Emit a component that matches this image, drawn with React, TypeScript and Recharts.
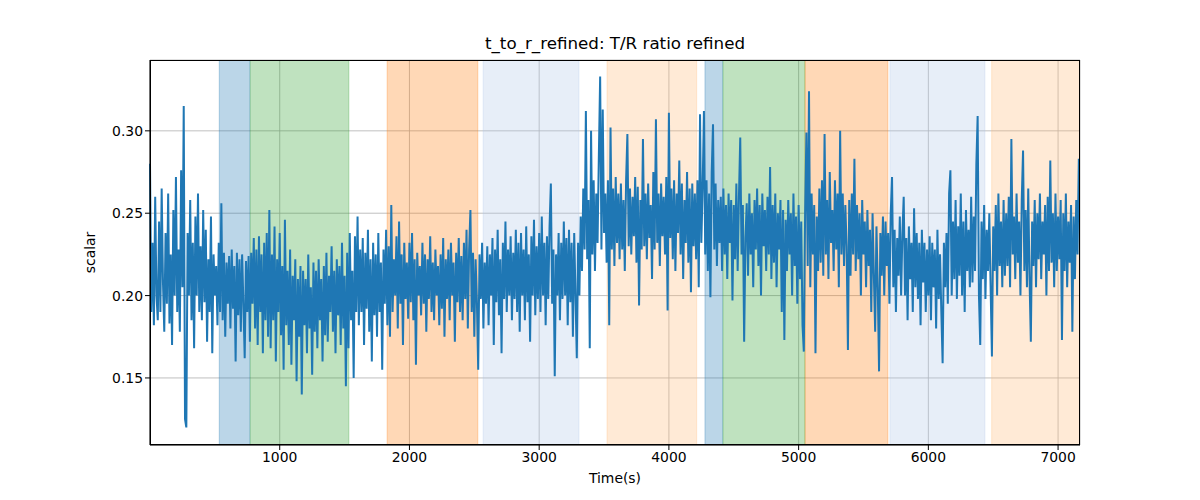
import { LineChart, Line, XAxis, YAxis, CartesianGrid, ReferenceArea } from "recharts";

// sampled every 10 s, starting at t = 0
const STEP = 10;

const ratio: number[] = [
  0.28, 0.19, 0.232, 0.182, 0.26, 0.2, 0.185, 0.245, 0.19, 0.265, 0.208, 0.178, 0.238, 0.195, 0.262, 0.183, 0.225, 0.17, 0.252, 0.2,
  0.272, 0.19, 0.228, 0.178, 0.276, 0.205, 0.315, 0.125, 0.12, 0.238, 0.2, 0.258, 0.185, 0.232, 0.168, 0.248, 0.2, 0.262, 0.19, 0.23,
  0.185, 0.252, 0.196, 0.24, 0.172, 0.222, 0.19, 0.248, 0.165, 0.225, 0.2, 0.218, 0.182, 0.232, 0.19, 0.256, 0.185, 0.226, 0.175, 0.22,
  0.195, 0.224, 0.18, 0.228, 0.192, 0.218, 0.16, 0.226, 0.188, 0.222, 0.178, 0.225, 0.195, 0.162, 0.221, 0.19, 0.224, 0.172, 0.226, 0.195,
  0.235, 0.18, 0.228, 0.17, 0.236, 0.19, 0.225, 0.165, 0.232, 0.185, 0.238, 0.175, 0.252, 0.168, 0.225, 0.185, 0.242, 0.16, 0.222, 0.19,
  0.238, 0.176, 0.218, 0.155, 0.246, 0.182, 0.215, 0.17, 0.228, 0.158, 0.212, 0.185, 0.222, 0.148, 0.21, 0.175, 0.218, 0.14, 0.215, 0.182,
  0.21, 0.165, 0.225, 0.18, 0.205, 0.152, 0.22, 0.178, 0.215, 0.168, 0.222, 0.185, 0.21, 0.16, 0.218, 0.176, 0.226, 0.172, 0.212, 0.19,
  0.23, 0.178, 0.215, 0.165, 0.222, 0.188, 0.218, 0.17, 0.232, 0.18, 0.212, 0.145, 0.226, 0.168, 0.238, 0.185, 0.215, 0.15, 0.236, 0.19,
  0.248, 0.182, 0.228, 0.19, 0.235, 0.17, 0.226, 0.192, 0.24, 0.178, 0.222, 0.16, 0.232, 0.188, 0.225, 0.175, 0.238, 0.19, 0.22, 0.155,
  0.228, 0.195, 0.24, 0.182, 0.23, 0.175, 0.255, 0.19, 0.222, 0.2, 0.236, 0.18, 0.245, 0.195, 0.225, 0.17, 0.232, 0.198, 0.22, 0.186,
  0.232, 0.196, 0.238, 0.185, 0.222, 0.158, 0.226, 0.2, 0.218, 0.188, 0.232, 0.195, 0.225, 0.178, 0.222, 0.198, 0.236, 0.19, 0.22, 0.185,
  0.228, 0.2, 0.218, 0.182, 0.225, 0.192, 0.235, 0.175, 0.222, 0.198, 0.228, 0.185, 0.232, 0.2, 0.22, 0.172, 0.226, 0.196, 0.235, 0.19,
  0.224, 0.185, 0.232, 0.198, 0.24, 0.18, 0.228, 0.252, 0.19, 0.226, 0.175, 0.222, 0.196, 0.155, 0.225, 0.198, 0.232, 0.18, 0.22, 0.195,
  0.23, 0.182, 0.225, 0.2, 0.235, 0.17, 0.228, 0.196, 0.24, 0.188, 0.222, 0.165, 0.232, 0.198, 0.245, 0.19, 0.228, 0.2, 0.236, 0.185,
  0.226, 0.198, 0.24, 0.19, 0.232, 0.178, 0.238, 0.2, 0.228, 0.185, 0.242, 0.196, 0.225, 0.172, 0.236, 0.2, 0.246, 0.188, 0.23, 0.198,
  0.238, 0.19, 0.248, 0.2, 0.232, 0.182, 0.236, 0.198, 0.242, 0.268, 0.195, 0.228, 0.151, 0.225, 0.2, 0.238, 0.185, 0.232, 0.198, 0.245,
  0.2, 0.235, 0.182, 0.24, 0.196, 0.232, 0.175, 0.238, 0.2, 0.162, 0.232, 0.2, 0.248, 0.215, 0.265, 0.228, 0.312, 0.222, 0.258, 0.168,
  0.3, 0.225, 0.27, 0.215, 0.262, 0.232, 0.285, 0.333, 0.228, 0.313, 0.238, 0.262, 0.22, 0.27, 0.182, 0.302, 0.228, 0.265, 0.218, 0.272,
  0.232, 0.262, 0.222, 0.268, 0.228, 0.258, 0.215, 0.27, 0.298, 0.23, 0.265, 0.225, 0.26, 0.236, 0.272, 0.22, 0.266, 0.194, 0.258, 0.228,
  0.295, 0.23, 0.262, 0.222, 0.268, 0.235, 0.255, 0.21, 0.275, 0.228, 0.307, 0.232, 0.262, 0.218, 0.268, 0.236, 0.26, 0.225, 0.272, 0.191,
  0.311, 0.235, 0.265, 0.222, 0.27, 0.215, 0.262, 0.238, 0.282, 0.225, 0.268, 0.21, 0.258, 0.232, 0.275, 0.22, 0.265, 0.202, 0.268, 0.23,
  0.262, 0.222, 0.27, 0.205, 0.31, 0.232, 0.265, 0.312, 0.225, 0.27, 0.215, 0.262, 0.199, 0.275, 0.304, 0.228, 0.268, 0.218, 0.258, 0.232,
  0.26, 0.215, 0.265, 0.225, 0.255, 0.21, 0.262, 0.232, 0.258, 0.197, 0.255, 0.222, 0.268, 0.215, 0.26, 0.296, 0.225, 0.255, 0.172, 0.235,
  0.256, 0.212, 0.262, 0.225, 0.25, 0.205, 0.258, 0.228, 0.265, 0.218, 0.255, 0.2, 0.262, 0.23, 0.252, 0.215, 0.26, 0.225, 0.278, 0.21,
  0.255, 0.22, 0.262, 0.205, 0.25, 0.228, 0.258, 0.19, 0.252, 0.173, 0.246, 0.215, 0.258, 0.225, 0.25, 0.2, 0.262, 0.218, 0.248, 0.195,
  0.255, 0.21, 0.245, 0.182, 0.166, 0.25, 0.299, 0.218, 0.324, 0.205, 0.262, 0.225, 0.255, 0.165, 0.248, 0.215, 0.265, 0.22, 0.27, 0.212,
  0.298, 0.225, 0.258, 0.21, 0.275, 0.232, 0.252, 0.215, 0.27, 0.228, 0.262, 0.205, 0.3, 0.225, 0.262, 0.218, 0.255, 0.23, 0.167, 0.258,
  0.212, 0.262, 0.225, 0.283, 0.215, 0.255, 0.222, 0.25, 0.2, 0.258, 0.225, 0.245, 0.205, 0.252, 0.218, 0.24, 0.19, 0.25, 0.212, 0.178,
  0.242, 0.205, 0.154, 0.238, 0.212, 0.248, 0.2, 0.245, 0.218, 0.238, 0.195, 0.25, 0.272, 0.205, 0.24, 0.19, 0.235, 0.212, 0.248, 0.2,
  0.238, 0.26, 0.2, 0.235, 0.185, 0.242, 0.21, 0.232, 0.19, 0.253, 0.205, 0.238, 0.198, 0.232, 0.182, 0.24, 0.208, 0.232, 0.19, 0.228,
  0.2, 0.236, 0.185, 0.232, 0.205, 0.228, 0.18, 0.24, 0.198, 0.225, 0.19, 0.159, 0.232, 0.205, 0.238, 0.195, 0.262, 0.276, 0.2, 0.245,
  0.21, 0.258, 0.198, 0.242, 0.212, 0.262, 0.2, 0.245, 0.19, 0.252, 0.215, 0.24, 0.205, 0.26, 0.208, 0.248, 0.215, 0.28, 0.309, 0.2,
  0.17, 0.245, 0.21, 0.255, 0.198, 0.24, 0.215, 0.25, 0.205, 0.163, 0.242, 0.215, 0.255, 0.2, 0.262, 0.218, 0.245, 0.205, 0.258, 0.212,
  0.25, 0.218, 0.26, 0.205, 0.295, 0.225, 0.248, 0.21, 0.262, 0.22, 0.245, 0.2, 0.258, 0.288, 0.215, 0.252, 0.205, 0.265, 0.21, 0.172,
  0.245, 0.218, 0.258, 0.205, 0.25, 0.222, 0.262, 0.21, 0.245, 0.225, 0.255, 0.2, 0.26, 0.215, 0.282, 0.22, 0.25, 0.205, 0.262, 0.215,
  0.248, 0.222, 0.258, 0.173, 0.25, 0.215, 0.262, 0.205, 0.245, 0.22, 0.255, 0.178, 0.248, 0.21, 0.258, 0.225, 0.283,
];

// shaded segments [start, end, colour]
const segStart = [534, 773, 1828, 2568, 3523, 4278, 4417, 5049, 5704, 6488];
const segEnd = [770, 1533, 2527, 3307, 4214, 4414, 5049, 5688, 6436, 7169];
const segColor = ["#1f77b4", "#2ca02c", "#ff7f0e", "#aec7e8", "#ffbb78", "#1f77b4", "#2ca02c", "#ff7f0e", "#aec7e8", "#ffbb78"];

const xTicks = [1000, 2000, 3000, 4000, 5000, 6000, 7000];
const yTicks = [0.15, 0.2, 0.25, 0.3];

const data = ratio.map((v, i) => ({ t: i * STEP, v }));

const font = "DejaVu Sans, sans-serif";
const tickStyle = { fill: "#000", fontSize: 13.9, fontFamily: font };

export default function App() {
  return (
    <div style={{ position: "absolute", left: 0, top: 0, width: 1200, height: 500, background: "#fff" }}>
      <div
        style={{
          position: "absolute", top: 33, left: 150, width: 930, textAlign: "center",
          fontFamily: font, fontSize: 16.7, color: "#000",
        }}
      >
        t_to_r_refined: T/R ratio refined
      </div>
      <LineChart width={1200} height={500} data={data} margin={{ top: 60, right: 120, bottom: 25, left: 90 }}>
        <CartesianGrid stroke="#b0b0b0" strokeWidth={0.8} horizontal vertical />
        {segStart.map((s, i) => (
          <ReferenceArea
            key={i}
            x1={s}
            x2={segEnd[i]}
            fill={segColor[i]}
            fillOpacity={0.3}
            stroke={segColor[i]}
            strokeOpacity={0.3}
            ifOverflow="hidden"
          />
        ))}
        <XAxis
          dataKey="t"
          type="number"
          domain={[0, 7169]}
          ticks={xTicks}
          tick={tickStyle}
          tickLine={{ stroke: "#000" }}
          tickSize={5}
          axisLine={{ stroke: "#000" }}
          height={30}
          label={{ value: "Time(s)", position: "insideBottom", offset: -8, style: { ...tickStyle } }}
        />
        <YAxis
          type="number"
          domain={[0.1093, 0.343]}
          ticks={yTicks}
          allowDataOverflow
          tickFormatter={(v: number) => v.toFixed(2)}
          tick={tickStyle}
          tickLine={{ stroke: "#000" }}
          tickSize={5}
          axisLine={{ stroke: "#000" }}
          width={60}
          label={{ value: "scalar", angle: -90, position: "insideLeft", offset: 0, style: { ...tickStyle, textAnchor: "middle" } }}
        />
        <Line dataKey="v" stroke="#1f77b4" strokeWidth={2} dot={false} isAnimationActive={false} />
      </LineChart>
      <div
        style={{
          position: "absolute", left: 150, top: 60, width: 930, height: 385,
          border: "1px solid #000", boxSizing: "border-box", pointerEvents: "none",
        }}
      />
    </div>
  );
}
